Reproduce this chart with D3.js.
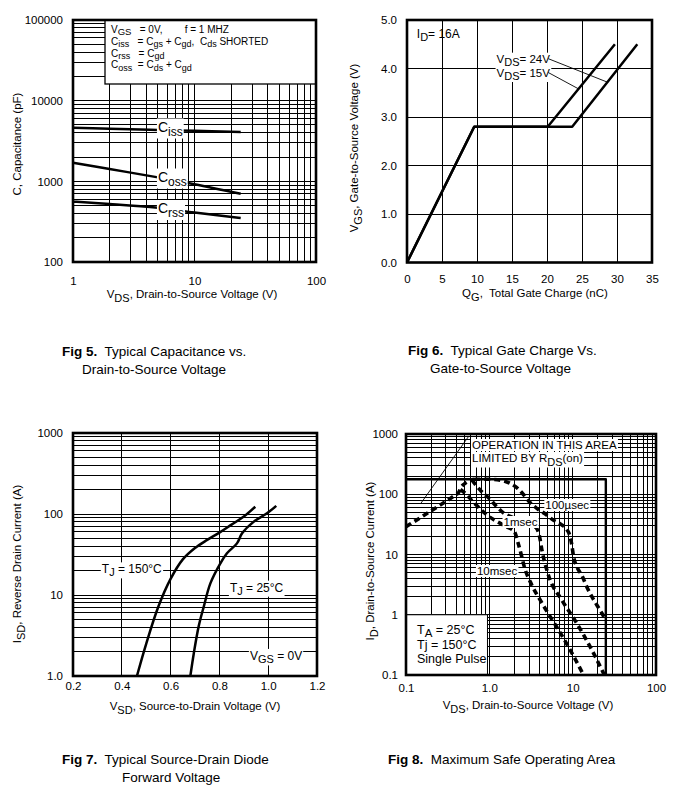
<!DOCTYPE html>
<html>
<head>
<meta charset="utf-8">
<script src="https://cdn.jsdelivr.net/npm/d3@7"></script>
<style>
  body { margin: 0; background: #fff; }
  svg { font-family: "Liberation Sans", Arial, Helvetica, sans-serif; }
  text { white-space: pre; fill: #000; }
</style>
</head>
<body>
<svg id="chart" width="673" height="794"></svg>
<script>
// ---- Fig 5: capacitance vs VDS
const capVds = [1, 2, 5, 10, 24];
const capCiss = [4600, 4480, 4330, 4230, 4100];
const capCoss = [1700, 1420, 1120, 920, 700];
const capCrss = [560, 525, 470, 410, 350];
const capXTicks = [1, 10, 100];
const capXLabels = ['1', '10', '100'];
const capYTicks = [100, 1000, 10000, 100000];
const capYLabels = ['100', '1000', '10000', '100000'];

// ---- Fig 6: gate charge
const gateQg15 = [0, 9.6, 20.1, 29.7];
const gateVgs15 = [0, 2.8, 2.8, 4.5];
const gateQg24 = [0, 9.6, 23.6, 32.9];
const gateVgs24 = [0, 2.8, 2.8, 4.5];
const gateXTicks = [0, 5, 10, 15, 20, 25, 30, 35];
const gateYTicks = [0, 1, 2, 3, 4, 5];

// ---- Fig 7: body diode forward voltage
const diodeVsd150 = [0.462, 0.5, 0.55, 0.6, 0.65, 0.7, 0.75, 0.8, 0.85, 0.9, 0.947];
const diodeIsd150 = [1.0, 2.5, 7.2, 15.8, 27.5, 38, 47.9, 58.9, 74, 93, 123];
const diodeVsd25 = [0.681, 0.695, 0.715, 0.736, 0.763, 0.804, 0.831, 0.872, 0.893, 0.94, 0.995, 1.033];
const diodeIsd25 = [1.0, 1.9, 4.1, 7.2, 13.9, 24.6, 32.7, 43.4, 57.7, 80, 102, 126];
const diodeXTicks = [0.2, 0.4, 0.6, 0.8, 1.0, 1.2];
const diodeYTicks = [1, 10, 100, 1000];
const diodeYLabels = ['1.0', '10', '100', '1000'];

// ---- Fig 8: safe operating area
const soaLimitV = [0.1, 25, 25];
const soaLimitI = [177, 177, 0.1];
const soaRdsV = [0.1, 0.2, 0.38, 0.43, 0.45, 0.5, 0.58, 0.66];
const soaRdsI = [29, 53, 95, 108, 125, 148, 168, 177];
const soa100usV = [0.66, 1.0, 1.4, 1.8, 2.2, 2.6, 3.1, 3.8, 4.7, 5.9, 7.4, 8.5, 9.3, 9.8, 10.2, 11.2, 12.9, 14.8, 17, 19.5, 22.4, 25];
const soa100usI = [177, 177, 170, 150, 124, 97, 72, 57, 47, 37, 31, 26, 20, 14, 9.5, 6.3, 4.5, 2.9, 2.0, 1.45, 1.06, 0.82];
const soa1msV = [0.62, 0.8, 1.0, 1.23, 1.45, 2.0, 2.6, 3.2, 3.7, 4.0, 4.27, 5.1, 7.4, 10.7, 17, 24];
const soa1msI = [172, 112, 85, 62, 50, 40, 34, 31, 27, 20, 12, 4.6, 1.76, 0.8, 0.26, 0.1];
const soa10msV = [0.45, 0.54, 0.62, 0.74, 0.89, 1.2, 1.6, 2.0, 2.2, 2.45, 2.6, 3.2, 4.07, 5.2, 6.76, 9.5, 13.5];
const soa10msI = [120, 97, 78, 61, 48, 36, 29, 24, 16, 9.2, 6.6, 3.2, 1.76, 1.0, 0.56, 0.25, 0.1];
const soaXTicks = [0.1, 1, 10, 100];
const soaXLabels = ['0.1', '1.0', '10', '100'];
const soaYTicks = [0.1, 1, 10, 100, 1000];
const soaYLabels = ['0.1', '1', '10', '100', '1000'];

const svg = d3.select('#chart');

function logGrid(lo, hi) {
  const out = [];
  for (let e = Math.round(Math.log10(lo)); e < Math.round(Math.log10(hi)); e++)
    for (let k = 1; k < 10; k++) out.push(k * Math.pow(10, e));
  out.push(hi);
  return out;
}

function zip(xs, ys) { return xs.map((v, i) => [v, ys[i]]); }

// text with subscripts; parts: 'plain' or ['sub']
function rich(g, x, y, parts, o = {}) {
  const size = o.size || 11;
  const t = g.append('text')
    .attr('font-size', size)
    .attr('text-anchor', o.anchor || 'start');
  if (o.rotate) t.attr('transform', `translate(${x},${y}) rotate(-90)`);
  else t.attr('x', x).attr('y', y);
  let shift = 0;
  parts.forEach(p => {
    const sub = Array.isArray(p);
    const want = sub ? (o.subDy != null ? o.subDy : size * 0.3) : 0;
    const ts = t.append('tspan').attr('dy', want - shift).text(sub ? p[0] : p);
    if (sub) ts.attr('font-size', o.subSize || size * 0.85);
    shift = want;
  });
  if (o.bg) {
    const b = t.node().getBBox();
    g.insert('rect', () => t.node())
      .attr('x', b.x - 1).attr('y', b.y).attr('width', b.width + 2).attr('height', b.height)
      .attr('fill', '#fff');
  }
  return t;
}

function makePanel(p) {
  const g = svg.append('g');
  const x = (p.xLog ? d3.scaleLog() : d3.scaleLinear()).domain(p.xDomain).range([p.left, p.right]);
  const y = (p.yLog ? d3.scaleLog() : d3.scaleLinear()).domain(p.yDomain).range([p.bottom, p.top]);

  g.append('g').selectAll('line').data(p.xGrid).join('line')
    .attr('x1', d => x(d)).attr('x2', d => x(d))
    .attr('y1', p.top).attr('y2', p.bottom)
    .attr('stroke', '#000').attr('stroke-width', 1).attr('shape-rendering', 'crispEdges');
  g.append('g').selectAll('line').data(p.yGrid).join('line')
    .attr('y1', d => y(d)).attr('y2', d => y(d))
    .attr('x1', p.left).attr('x2', p.right)
    .attr('stroke', '#000').attr('stroke-width', 1).attr('shape-rendering', 'crispEdges');

  const xa = g.append('g').attr('transform', `translate(0,${p.bottom})`)
    .call(d3.axisBottom(x).tickValues(p.xTicks).tickFormat((d, i) => p.xLabels[i])
      .tickSize(0).tickPadding(p.xPad));
  const ya = g.append('g').attr('transform', `translate(${p.left},0)`)
    .call(d3.axisLeft(y).tickValues(p.yTicks).tickFormat((d, i) => p.yLabels[i])
      .tickSize(0).tickPadding(p.yPad));
  [xa, ya].forEach(a => {
    a.select('.domain').remove();
    a.attr('font-family', null).attr('font-size', 11.5);
  });

  return { g, x, y, p };
}

function frame(P) {
  const p = P.p;
  P.g.append('rect')
    .attr('x', p.left).attr('y', p.top)
    .attr('width', p.right - p.left).attr('height', p.bottom - p.top)
    .attr('fill', 'none').attr('stroke', '#000').attr('stroke-width', 2.6);
}

function curve(P, pts, o = {}) {
  const kind = o.straight ? d3.curveLinear : (o.smooth ? d3.curveCatmullRom.alpha(0.5) : d3.curveMonotoneX);
  const line = d3.line().x(d => P.x(d[0])).y(d => P.y(d[1])).curve(kind);
  const path = P.g.append('path').attr('d', line(pts))
    .attr('fill', 'none').attr('stroke', '#000')
    .attr('stroke-width', o.width || 2.5)
    .attr('stroke-linejoin', 'round');
  if (o.dash) path.attr('stroke-dasharray', o.dash);
  return path;
}

function title(x, y, bold, rest, line2x, line2) {
  const t = svg.append('text').attr('x', x).attr('y', y).attr('font-size', 13.5);
  t.append('tspan').attr('font-weight', 'bold').text(bold);
  t.append('tspan').text(rest);
  if (line2) svg.append('text').attr('x', line2x).attr('y', y + 18).attr('font-size', 13.5).text(line2);
}

// ================= Fig 5 =================
const P5 = makePanel({
  left: 73, right: 316, top: 20, bottom: 262,
  xLog: true, xDomain: [1, 100], yLog: true, yDomain: [100, 100000],
  xGrid: logGrid(1, 100), yGrid: logGrid(100, 100000),
  xTicks: capXTicks, xLabels: capXLabels, yTicks: capYTicks, yLabels: capYLabels,
  xPad: 15, yPad: 10
});
P5.g.append('rect')
  .attr('x', 105).attr('y', 20).attr('width', 316 - 105).attr('height', 64)
  .attr('fill', '#fff').attr('stroke', '#000').attr('stroke-width', 1.3);
rich(P5.g, 111, 33, ['V', ['GS'], '   = 0V,        f = 1 MHZ'], { size: 10, subDy: 1.5, subSize: 9.5 });
rich(P5.g, 111, 44.5, ['C', ['iss'], '   = C', ['gs'], ' + C', ['gd'], ',  C', ['ds'], ' SHORTED'], { size: 10, subDy: 2.5, subSize: 9 });
rich(P5.g, 111, 56.5, ['C', ['rss'], '   = C', ['gd']], { size: 10, subDy: 2.5, subSize: 9 });
rich(P5.g, 111, 68, ['C', ['oss'], '  = C', ['ds'], ' + C', ['gd']], { size: 10, subDy: 2.5, subSize: 9 });

curve(P5, zip(capVds, capCiss));
curve(P5, zip(capVds, capCoss));
curve(P5, zip(capVds, capCrss));
rich(P5.g, P5.x(5), 131.5, ['C', ['iss']], { size: 14, subDy: 4, subSize: 12, bg: true });
rich(P5.g, P5.x(5), 181.5, ['C', ['oss']], { size: 14, subDy: 4, subSize: 12, bg: true });
rich(P5.g, P5.x(5), 213, ['C', ['rss']], { size: 14, subDy: 4, subSize: 12, bg: true });
frame(P5);
rich(svg, 192, 298, ['V', ['DS'], ', Drain-to-Source Voltage (V)'], { size: 11.5, anchor: 'middle', subDy: 3.5, subSize: 11 });
rich(svg, 21, 144, ['C, Capacitance (pF)'], { size: 11.5, anchor: 'middle', rotate: true });
title(62, 356, 'Fig 5.', '  Typical Capacitance vs.', 82, 'Drain-to-Source Voltage');

// ================= Fig 6 =================
const P6 = makePanel({
  left: 407, right: 652, top: 20, bottom: 262.5,
  xDomain: [0, 35], yDomain: [0, 5],
  xGrid: [5, 10, 15, 20, 25, 30], yGrid: [1, 2, 3, 4],
  xTicks: gateXTicks, xLabels: gateXTicks.map(String),
  yTicks: gateYTicks, yLabels: gateYTicks.map(d => d.toFixed(1)),
  xPad: 12, yPad: 10
});
curve(P6, zip(gateQg15, gateVgs15), { straight: true });
curve(P6, zip(gateQg24, gateVgs24), { straight: true });
rich(P6.g, P6.x(1.4), P6.y(4.63), ['I', ['D'], '= 16A'], { size: 12, subDy: 3, subSize: 11 });
const t24 = rich(P6.g, P6.x(12.8), P6.y(4.12), ['V', ['DS'], '= 24V'], { size: 11.5, subDy: 3.5, subSize: 11, bg: true });
const t15 = rich(P6.g, P6.x(12.8), P6.y(3.835), ['V', ['DS'], '= 15V'], { size: 11.5, subDy: 3.5, subSize: 11, bg: true });
[[t24, 28.6, 3.72], [t15, 24.5, 3.58]].forEach(([t, q, v]) => {
  const b = t.node().getBBox();
  P6.g.append('line')
    .attr('x1', b.x + b.width - 2).attr('y1', b.y + 6)
    .attr('x2', P6.x(q)).attr('y2', P6.y(v))
    .attr('stroke', '#000').attr('stroke-width', 0.9);
});
frame(P6);
rich(svg, 535, 297, ['Q', ['G'], ',  Total Gate Charge (nC)'], { size: 11.5, anchor: 'middle', subDy: 3.5, subSize: 11 });
rich(svg, 358, 148, ['V', ['GS'], ', Gate-to-Source Voltage (V)'], { size: 11.5, anchor: 'middle', rotate: true, subDy: 3.5, subSize: 11 });
title(408, 355, 'Fig 6.', '  Typical Gate Charge Vs.', 430, 'Gate-to-Source Voltage');

// ================= Fig 7 =================
const P7 = makePanel({
  left: 73, right: 317, top: 433, bottom: 676,
  xDomain: [0.2, 1.2], yLog: true, yDomain: [1, 1000],
  xGrid: [0.4, 0.6, 0.8, 1.0], yGrid: logGrid(1, 1000),
  xTicks: diodeXTicks, xLabels: diodeXTicks.map(d => d.toFixed(1)),
  yTicks: diodeYTicks, yLabels: diodeYLabels,
  xPad: 6, yPad: 10
});
curve(P7, zip(diodeVsd150, diodeIsd150), { smooth: true });
curve(P7, zip(diodeVsd25, diodeIsd25), { smooth: true });
rich(P7.g, P7.x(0.318), P7.y(18.5), ['T', ['J'], ' = 150°C'], { size: 12, subDy: 3, subSize: 11, bg: true });
rich(P7.g, P7.x(0.843), P7.y(11), ['T', ['J'], ' = 25°C'], { size: 12, subDy: 3, subSize: 11, bg: true });
rich(P7.g, P7.x(0.925), P7.y(1.58), ['V', ['GS'], ' = 0V'], { size: 12, subDy: 3.5, subSize: 11, bg: true });
frame(P7);
rich(svg, 195, 710, ['V', ['SD'], ', Source-to-Drain Voltage (V)'], { size: 11.5, anchor: 'middle', subDy: 3.5, subSize: 11 });
rich(svg, 21, 564, ['I', ['SD'], ', Reverse Drain Current (A)'], { size: 11.5, anchor: 'middle', rotate: true, subDy: 3.5, subSize: 11 });
title(62, 764, 'Fig 7.', '  Typical Source-Drain Diode', 122, 'Forward Voltage');

// ================= Fig 8 =================
const P8 = makePanel({
  left: 406, right: 656, top: 434, bottom: 675,
  xLog: true, xDomain: [0.1, 100], yLog: true, yDomain: [0.1, 1000],
  xGrid: logGrid(0.1, 100), yGrid: logGrid(0.1, 1000),
  xTicks: soaXTicks, xLabels: soaXLabels, yTicks: soaYTicks, yLabels: soaYLabels,
  xPad: 9, yPad: 8
});
curve(P8, zip(soaLimitV, soaLimitI), { straight: true, width: 2.4 });
P8.g.append('rect')
  .attr('x', P8.x(0.1)).attr('y', P8.y(1.0))
  .attr('width', P8.x(0.95) - P8.x(0.1)).attr('height', P8.y(0.1) - P8.y(1.0))
  .attr('fill', '#fff').attr('stroke', '#000').attr('stroke-width', 1);
rich(P8.g, 417, 634, ['T', ['A'], ' = 25°C'], { size: 12.5, subDy: 3, subSize: 11.5 });
rich(P8.g, 417, 649, ['Tj = 150°C'], { size: 12.5 });
rich(P8.g, 417, 663, ['Single Pulse'], { size: 12.5 });

const dash = '6,4';
curve(P8, zip(soaRdsV, soaRdsI), { dash, width: 3.6 });
curve(P8, zip(soa100usV, soa100usI), { dash, width: 3.6 });
curve(P8, zip(soa1msV, soa1msI), { dash, width: 3.6 });
curve(P8, zip(soa10msV, soa10msI), { dash, width: 3.6 });

P8.g.append('line')
  .attr('x1', P8.x(0.15)).attr('y1', P8.y(70))
  .attr('x2', P8.x(0.56)).attr('y2', P8.y(900))
  .attr('stroke', '#000').attr('stroke-width', 0.9);
rich(P8.g, 472, 449, ['OPERATION IN THIS AREA'], { size: 11.5, bg: true });
rich(P8.g, 472, 462, ['LIMITED BY R', ['DS'], '(on)'], { size: 11.5, subDy: 3.5, subSize: 11, bg: true });
rich(P8.g, P8.x(4.7), 509, ['100µsec'], { size: 11.5, bg: true });
rich(P8.g, P8.x(1.48), 526, ['1msec'], { size: 11.5, bg: true });
rich(P8.g, P8.x(0.71), 575, ['10msec'], { size: 11.5, bg: true });
frame(P8);
rich(svg, 528, 709, ['V', ['DS'], ', Drain-to-Source Voltage (V)'], { size: 11.5, anchor: 'middle', subDy: 3.5, subSize: 11 });
rich(svg, 374, 561, ['I', ['D'], ', Drain-to-Source Current (A)'], { size: 11.5, anchor: 'middle', rotate: true, subDy: 3.5, subSize: 11 });
title(388, 764, 'Fig 8.', '  Maximum Safe Operating Area');
</script>
</body>
</html>
